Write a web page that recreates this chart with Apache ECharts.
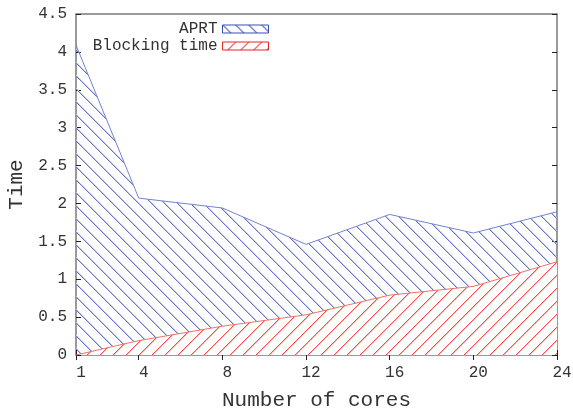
<!DOCTYPE html>
<html>
<head>
<meta charset="utf-8">
<script src="https://cdn.jsdelivr.net/npm/echarts@6/dist/echarts.min.js"></script>
<style>html,body{margin:0;padding:0;background:#fff}#c{width:573px;height:410px}</style>
</head>
<body>
<div id="c"></div>
<script>
var cores = [1, 4, 8, 12, 16, 20, 24];
var aprt = [4.09, 2.07, 1.94, 1.46, 1.855, 1.61, 1.89];
var blocking = [0, 0.19, 0.38, 0.53, 0.79, 0.905, 1.23];
var xTicks = [1, 4, 8, 12, 16, 20, 24];

function hatch(color, soft, dir, bg) {
  var s = 13;
  var c = document.createElement('canvas');
  c.width = s; c.height = s;
  var g = c.getContext('2d');
  if (bg) { g.fillStyle = bg; g.fillRect(0, 0, s, s); }
  for (var i = 0; i < s; i++) {
    var y = dir === 'back' ? i : s - 1 - i;
    g.fillStyle = soft;
    g.fillRect((i + 1) % s, y, 1, 1);
    g.fillStyle = color;
    g.fillRect(i, y, 1, 1);
  }
  return { image: c, repeat: 'repeat' };
}

var bluePat = hatch('#6677c8', '#c0c8ea', 'back', null);
var redPat = hatch('#ef5048', '#f9bcb6', 'fwd', '#ffffff');
var bluePatL = hatch('#4a5cbc', '#aab4e2', 'back', '#ffffff');
var redPatL = hatch('#ea4038', '#f6aca6', 'fwd', '#ffffff');

var font = 'Liberation Mono';
var chart = echarts.init(document.getElementById('c'), null, { renderer: 'canvas' });
var tickStyle = { show: true, inside: true, length: 5, lineStyle: { color: '#222', width: 1 } };

chart.setOption({
  animation: false,
  grid: { left: 76, right: 16, top: 14, bottom: 55, show: true, borderColor: '#7a7a7a', borderWidth: 1.5,
          containLabel: false, outerBoundsMode: 'none' },
  legend: {
    orient: 'vertical', align: 'right', right: 304, top: 21, padding: 0, itemGap: 1,
    itemWidth: 46, itemHeight: 8,
    textStyle: { fontFamily: font, fontSize: 16, color: '#333' },
    data: [
      { name: 'APRT', icon: 'rect', itemStyle: { color: bluePatL, borderColor: '#3a4cb0', borderWidth: 1 } },
      { name: 'Blocking time', icon: 'rect', itemStyle: { color: redPatL, borderColor: '#e02820', borderWidth: 1 } }
    ]
  },
  xAxis: [{
    type: 'value', min: 1, max: 24,
    name: 'Number of cores', nameLocation: 'middle', nameGap: 35,
    nameTextStyle: { fontFamily: font, fontSize: 21, color: '#333' },
    axisLine: { show: false }, splitLine: { show: false },
    axisTick: Object.assign({ customValues: xTicks }, tickStyle),
    axisLabel: { customValues: xTicks, fontFamily: font, fontSize: 16, color: '#333', margin: 10, padding: [0, 0, 0, 10] }
  }, {
    type: 'value', min: 1, max: 24, position: 'top',
    axisLine: { show: false }, splitLine: { show: false },
    axisTick: Object.assign({ customValues: xTicks }, tickStyle),
    axisLabel: { show: false, customValues: xTicks }
  }],
  yAxis: [{
    type: 'value', min: 0, max: 4.5, interval: 0.5,
    name: 'Time', nameLocation: 'middle', nameGap: 46,
    nameTextStyle: { fontFamily: font, fontSize: 21, color: '#333' },
    axisLine: { show: false }, splitLine: { show: false },
    axisTick: tickStyle,
    axisLabel: { fontFamily: font, fontSize: 16, color: '#333', margin: 9 }
  }, {
    type: 'value', min: 0, max: 4.5, interval: 0.5, position: 'right',
    axisLine: { show: false }, splitLine: { show: false },
    axisTick: tickStyle,
    axisLabel: { show: false }
  }],
  series: [{
    name: 'APRT', type: 'line', xAxisIndex: 0, yAxisIndex: 0,
    data: cores.map(function (c, i) { return [c, aprt[i]]; }),
    showSymbol: false, symbol: 'none',
    lineStyle: { color: '#7383cc', width: 1 },
    areaStyle: { color: bluePat, opacity: 1 },
    z: 2
  }, {
    name: 'Blocking time', type: 'line', xAxisIndex: 0, yAxisIndex: 0,
    data: cores.map(function (c, i) { return [c, blocking[i]]; }),
    showSymbol: false, symbol: 'none',
    lineStyle: { color: '#f07068', width: 1 },
    areaStyle: { color: redPat, opacity: 1 },
    z: 3
  }]
});
</script>
</body>
</html>
